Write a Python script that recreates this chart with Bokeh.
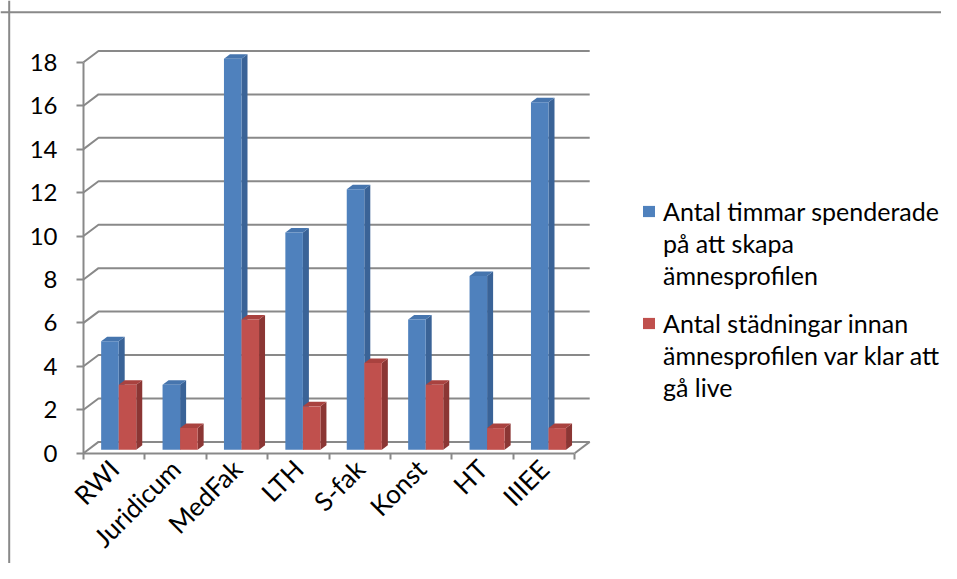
import math
from bokeh.plotting import figure
from bokeh.models import Range1d, LinearAxis, FixedTicker, Legend, LegendItem, Span
from bokeh.embed import file_html
from bokeh.resources import INLINE

# ---- data ----
categories = ["RWI", "Juridicum", "MedFak", "LTH", "S-fak", "Konst", "HT", "IIIEE"]
hours = [5, 3, 18, 10, 12, 6, 8, 16]
cleanups = [3, 1, 6, 2, 4, 3, 1, 1]
y_ticks = [0, 2, 4, 6, 8, 10, 12, 14, 16, 18]
series_label_lines = [
    ["Antal timmar spenderade", "på att skapa", "ämnesprofilen"],
    ["Antal städningar innan", "ämnesprofilen var klar att", "gå live"],
]

# ---- layout constants ----
W, H = 941, 563
SX, SY = 61.4, 21.72          # px per category / per value unit
OX, OY = 83.0, 452.7          # screen position of data origin (from top-left)
DX, DY = 15.0 / SX, 11.3 / SY # depth of the 3D box in data units
D0, D1 = 0.3, 0.7             # bar depth (fraction of box depth)
GAP = 1.5                     # gap width (Excel style)
BW = 1.0 / (2 + GAP)
GRAY = "#898989"
FONT = "Lato"
FS = "24px"
XFS = "26px"
LFS = "25px"
LINE_H = 31.5

x_start = -OX / SX
x_end = (W - OX) / SX
y_end = OY / SY
y_start = -(H - OY) / SY
n = len(categories)
ymax = y_ticks[-1]

p = figure(width=W, height=H, output_backend="svg", toolbar_location=None,
           x_range=Range1d(x_start, x_end), y_range=Range1d(y_start, y_end),
           x_axis_type=None, y_axis_type=None, min_border=0,
           outline_line_color=None, background_fill_color="white",
           border_fill_color="white")
p.grid.visible = False

# back wall gridlines + floor
gx, gy = [], []
for t in y_ticks:
    gx.append([0, DX, n + DX])
    gy.append([t, t + DY, t + DY])
p.multi_line(gx, gy, line_color=GRAY, line_width=2)
p.segment(x0=[n], y0=[0], x1=[n + DX], y1=[DY], line_color=GRAY, line_width=2)

# bars
colors = [("#4F81BD", "#3A6397", "#4675AE"), ("#C0504D", "#8B3634", "#A9423F")]
fronts = []
for s, vals in enumerate([hours, cleanups]):
    fc, sc, tc = colors[s]
    left = [i + (1 - 2 * BW) / 2 + s * BW + D0 * DX for i in range(n)]
    right = [l + BW for l in left]
    bottom = [D0 * DY] * n
    top = [v + D0 * DY for v in vals]
    ddx = (D1 - D0) * DX
    ddy = (D1 - D0) * DY
    side_x, side_y, top_x, top_y = [], [], [], []
    for i in range(n):
        r, l = right[i], left[i]
        side_x.append([r, r + ddx, r + ddx, r])
        side_y.append([D0 * DY, D0 * DY + ddy, top[i] + ddy, top[i]])
        top_x.append([l, r, r + ddx, l + ddx])
        top_y.append([top[i], top[i], top[i] + ddy, top[i] + ddy])
    p.patches(side_x, side_y, fill_color=sc, line_color=None)
    p.patches(top_x, top_y, fill_color=tc, line_color=None)
    fr = p.quad(left=left, right=right, bottom=bottom, top=top, fill_color=fc, line_color=None)
    fronts.append(fr)

# invisible renderer used for continuation lines of the legend labels
blank = p.quad(left=[], right=[], bottom=[], top=[], fill_alpha=0, line_alpha=0)

# axes
yaxis = LinearAxis(fixed_location=0, bounds=(0, ymax),
                   ticker=FixedTicker(ticks=y_ticks, minor_ticks=[]))
yaxis.axis_line_color = GRAY
yaxis.axis_line_width = 2
yaxis.major_tick_line_color = GRAY
yaxis.major_tick_line_width = 2
yaxis.major_tick_out = 7
yaxis.major_tick_in = 0
yaxis.minor_tick_line_color = None
yaxis.major_label_standoff = 19
yaxis.major_label_text_font = FONT
yaxis.major_label_text_font_size = FS
yaxis.major_label_text_color = "black"
p.add_layout(yaxis, "left")

centers = [i + 0.5 for i in range(n)]
xaxis = LinearAxis(fixed_location=0, bounds=(0, n),
                   ticker=FixedTicker(ticks=centers, minor_ticks=list(range(n + 1))),
                   major_label_overrides={c: name for c, name in zip(centers, categories)})
xaxis.major_label_orientation = math.pi / 4
xaxis.axis_line_color = GRAY
xaxis.axis_line_width = 2
xaxis.major_tick_line_color = None
xaxis.minor_tick_line_color = GRAY
xaxis.minor_tick_line_width = 2
xaxis.minor_tick_out = 6
xaxis.minor_tick_in = 0
xaxis.major_label_standoff = 5
xaxis.major_label_text_font = FONT
xaxis.major_label_text_font_size = XFS
xaxis.major_label_text_color = "black"
p.add_layout(xaxis, "below")

# outer border (left and top only, as in the cropped reference)
p.add_layout(Span(location=x_start + 8.7 / SX, dimension="height", line_color=GRAY, line_width=2))
p.add_layout(Span(location=y_end - 11.7 / SY, dimension="width", line_color=GRAY, line_width=2))

# legends: one per series, glyph beside the first line of the label
legend_tops = [196.25, 308.6]
for k in range(2):
    lines = series_label_lines[k]
    items = [LegendItem(label=lines[0], renderers=[fronts[k]])]
    items += [LegendItem(label=t, renderers=[blank]) for t in lines[1:]]
    bottom_px = legend_tops[k] + LINE_H * len(lines)
    lg = Legend(items=items, location=(641, H - bottom_px), orientation="vertical")
    lg.glyph_width = 15
    lg.glyph_height = 14
    lg.label_standoff = 7
    lg.label_height = int(round(LINE_H))
    lg.label_text_font = FONT
    lg.label_text_font_size = LFS
    lg.label_text_color = "black"
    lg.spacing = 0
    lg.padding = 0
    lg.margin = 0
    lg.border_line_color = None
    lg.background_fill_alpha = 0
    lg.inactive_fill_alpha = 0
    p.add_layout(lg, "center")

open("out.html", "w").write(file_html(p, INLINE))
